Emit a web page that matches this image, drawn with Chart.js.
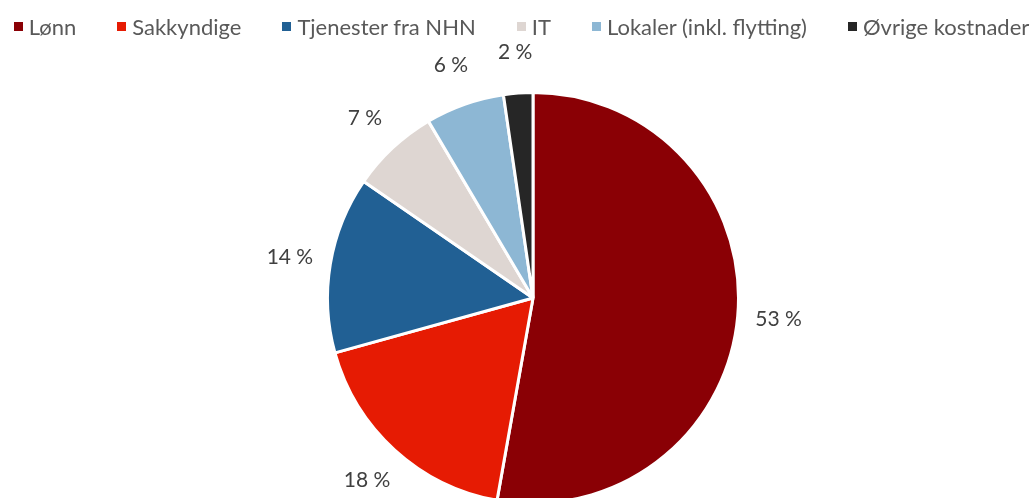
<!DOCTYPE html>
<html>
<head>
<meta charset="utf-8">
<script src="https://cdn.jsdelivr.net/npm/chart.js@4"></script>
<style>
    html, body { margin: 0; padding: 0; background: #fff; overflow: hidden; }
    #wrap { position: relative; width: 1033px; height: 508px; }
    #legend {
        position: absolute; top: 13px; left: 0; width: 1043px;
        display: flex; justify-content: center; gap: 41px;
        font-family: Lato, sans-serif; font-size: 22px; color: #595959;
        white-space: nowrap;
    }
    #legend span.item { display: flex; align-items: center; }
    #legend span.box { display: inline-block; width: 9px; height: 9px; margin-right: 6px; }
</style>
</head>
<body>
<div id="wrap">
    <div id="legend"></div>
    <canvas id="pieChart" width="1033" height="508"></canvas>
</div>
<script>
// andel av kostnader, prosent
const categories = ["Lønn", "Sakkyndige", "Tjenester fra NHN", "IT", "Lokaler (inkl. flytting)", "Øvrige kostnader"];
const shares = [52.8, 17.9, 13.9, 6.9, 6.2, 2.3];
const colors = ["#8a0005", "#e61b03", "#216094", "#ded6d2", "#8db7d4", "#262626"];

const legend = document.getElementById("legend");
categories.forEach((c, i) => {
    const item = document.createElement("span");
    item.className = "item";
    item.innerHTML = `<span class="box" style="background:${colors[i]}"></span>${c}`;
    legend.appendChild(item);
});

const pctLabels = {
    id: "pctLabels",
    afterDatasetsDraw(chart) {
        const ctx = chart.ctx;
        const meta = chart.getDatasetMeta(0);
        ctx.save();
        ctx.font = "21px Lato, sans-serif";
        ctx.fillStyle = "#404040";
        ctx.textAlign = "center";
        ctx.textBaseline = "middle";
        meta.data.forEach((arc, i) => {
            const p = arc.getProps(["x", "y", "startAngle", "endAngle", "outerRadius"], true);
            const mid = (p.startAngle + p.endAngle) / 2;
            const r = p.outerRadius + 41;
            ctx.fillText(Math.round(shares[i]) + " %", p.x + Math.cos(mid) * r, p.y + Math.sin(mid) * r);
        });
        ctx.restore();
    }
};

new Chart(document.getElementById("pieChart").getContext("2d"), {
    type: "pie",
    data: {
        labels: categories,
        datasets: [{ data: shares, backgroundColor: colors, borderColor: "#fff", borderWidth: 3 }]
    },
    options: {
        responsive: false,
        animation: false,
        layout: { padding: { top: 91, bottom: 3, left: 33, right: 0 } },
        plugins: { legend: { display: false }, tooltip: { enabled: false } }
    },
    plugins: [pctLabels]
});
</script>
</body>
</html>
